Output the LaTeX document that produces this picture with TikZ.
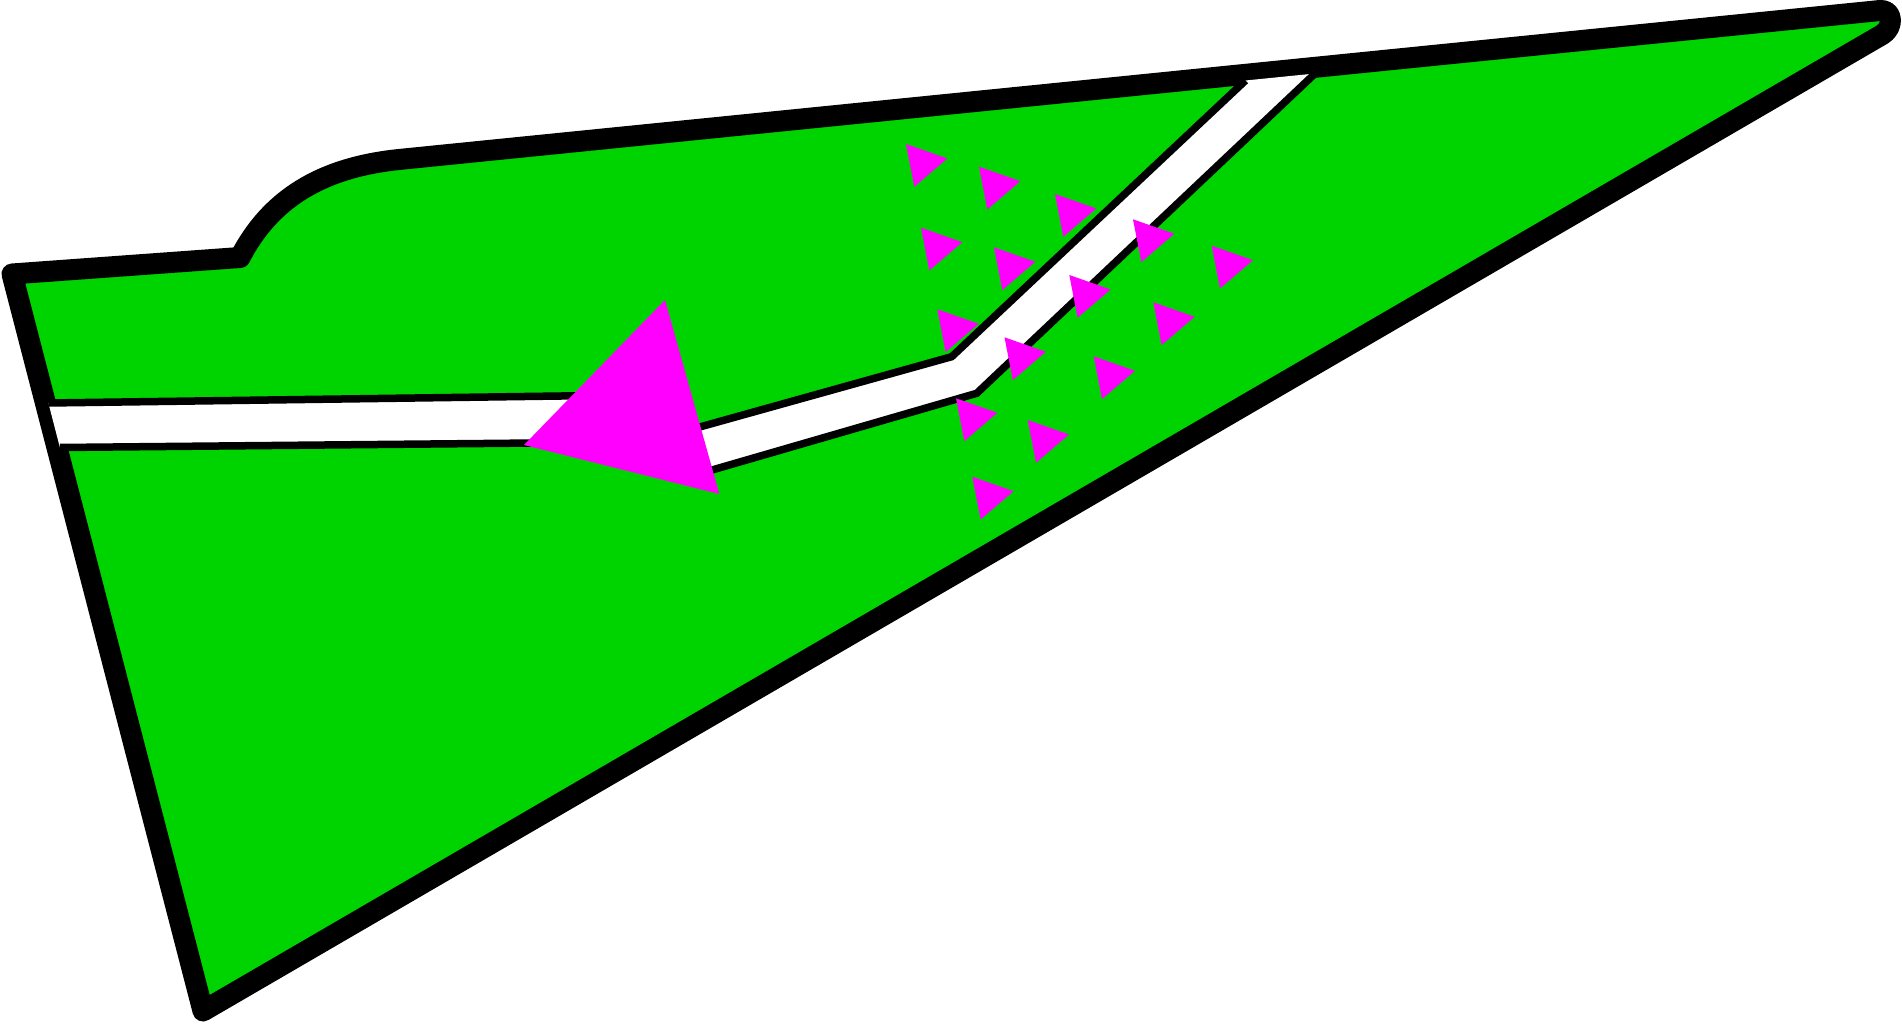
\documentclass[tikz,border=0pt]{standalone}
\definecolor{fieldgreen}{RGB}{0,212,0}
\definecolor{mag}{RGB}{255,0,255}
\begin{document}
\begin{tikzpicture}[x=0.5pt,y=-0.5pt,
  outline/.style={draw=black,line width=10.5pt,line join=round,fill=fieldgreen},
  roadfill/.style={fill=white},
  roadedge/.style={draw=black,line width=3.75pt,line join=miter},
  marker/.style={fill=mag}]
\useasboundingbox (0,0) rectangle (1902,1032);
% field outline
\coordinate (lv) at (12,274);
\coordinate (hs) at (240,257.5);
\coordinate (ht) at (400,159.4);
\coordinate (ta) at (1880,10.5);
\coordinate (tb) at (1882,34.7);
\coordinate (bv) at (203,1011);
\draw[outline] (lv) -- (hs) .. controls (269.9,199.7) and (320.4,167.4) .. (ht)
  -- (ta) .. controls (1893,9.2) and (1894.1,27.7) .. (tb) -- (bv) -- cycle;
% road strip
\coordinate (L0) at (48.4,403);
\coordinate (L1) at (620,395.2);
\coordinate (L2) at (680,432.5);
\coordinate (L3) at (951.7,356.7);
\coordinate (L4) at (1245.5,80.5);
\coordinate (R0) at (59.9,447.5);
\coordinate (R1) at (600,442.4);
\coordinate (R2) at (700,473.5);
\coordinate (R3) at (976.7,393.3);
\coordinate (R4) at (1315.1,73.5);
\fill[roadfill] (L0) -- (L1) -- (L2) -- (L3) -- (L4) -- (R4) -- (R3) -- (R2) -- (R1) -- (R0) -- cycle;
\draw[roadedge] (L0) -- (L1) -- (L2) -- (L3) -- (L4);
\draw[roadedge] (R0) -- (R1) -- (R2) -- (R3) -- (R4);
% small markers
\foreach \n/\px/\py in {1/906/144, 2/979/166.7, 3/1055/194, 4/921/227.7, 5/994/247.3,
  6/1133/219.3, 7/1211.7/245.7, 8/937.3/309.3, 9/1069.3/275, 10/1153.3/302.3,
  11/1004.5/337.3, 12/1093.7/356.3, 13/956/398.3, 14/1027.7/420, 15/972.3/476.7}{
  \coordinate (m\n) at (\px,\py);
  \fill[marker] (m\n) -- ++(41.3,14.5) -- ++(-33,28.3) -- cycle;
}
% big marker
\coordinate (ba) at (665,300);
\coordinate (bb) at (524,445);
\coordinate (bc) at (719.3,494);
\fill[marker] (ba) -- (bb) -- (bc) -- cycle;
\end{tikzpicture}
\end{document}
